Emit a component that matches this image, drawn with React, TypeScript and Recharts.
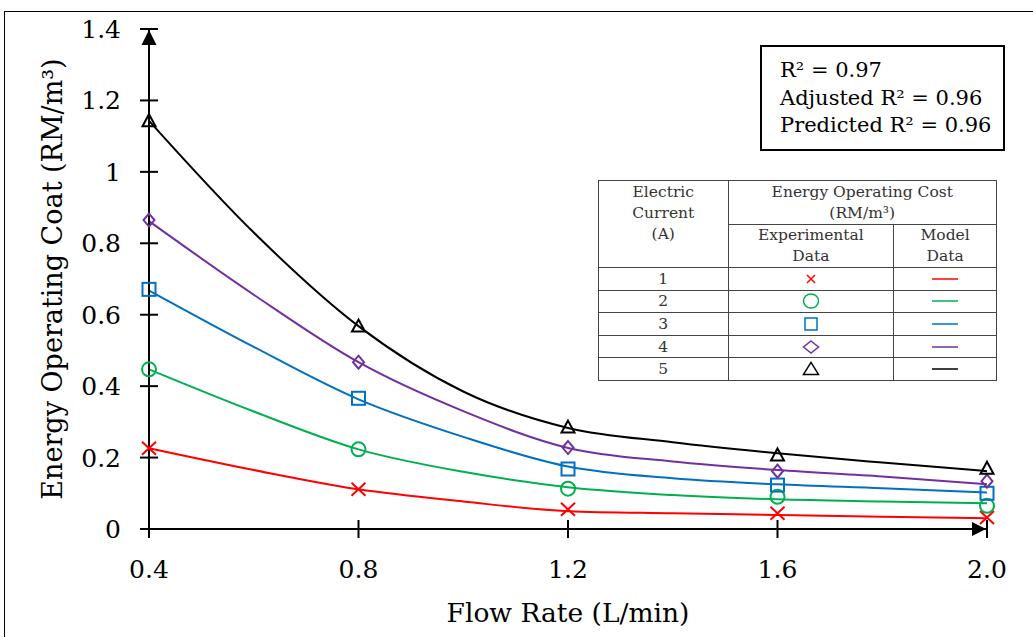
import { ComposedChart, Line, Scatter, XAxis, YAxis } from "recharts"

// flow rate (L/min) and energy operating cost (RM/m3) per electric current
const flowRates = [0.4, 0.8, 1.2, 1.6, 2.0]
const modelFlowRates = [0.4, 0.6, 0.8, 1.0, 1.2, 1.4, 1.6, 1.8, 2.0]
const costTicks = [0, 0.2, 0.4, 0.6, 0.8, 1, 1.2, 1.4]
const currents = ["1", "2", "3", "4", "5"]

const exp1A = [0.226, 0.111, 0.055, 0.044, 0.032]
const exp2A = [0.447, 0.223, 0.113, 0.09, 0.065]
const exp3A = [0.671, 0.366, 0.168, 0.123, 0.1]
const exp4A = [0.865, 0.467, 0.228, 0.162, 0.134]
const exp5A = [1.143, 0.568, 0.285, 0.207, 0.17]

const model1A = [0.226, 0.165, 0.111, 0.077, 0.05, 0.044, 0.039, 0.034, 0.03]
const model2A = [0.447, 0.329, 0.223, 0.16, 0.117, 0.095, 0.083, 0.077, 0.072]
const model3A = [0.668, 0.51, 0.363, 0.258, 0.175, 0.142, 0.125, 0.114, 0.102]
const model4A = [0.862, 0.656, 0.467, 0.33, 0.227, 0.189, 0.165, 0.147, 0.125]
const model5A = [1.143, 0.83, 0.568, 0.385, 0.283, 0.243, 0.212, 0.186, 0.162]

const fitStats = ["R² = 0.97", "Adjusted R² = 0.96", "Predicted R² = 0.96"]

type MarkerKind = "cross" | "circle" | "square" | "diamond" | "triangle"

const seriesList: { current: string; color: string; marker: MarkerKind; exp: number[]; model: number[] }[] = [
  { current: currents[0], color: "#ff0000", marker: "cross", exp: exp1A, model: model1A },
  { current: currents[1], color: "#00b050", marker: "circle", exp: exp2A, model: model2A },
  { current: currents[2], color: "#0070c0", marker: "square", exp: exp3A, model: model3A },
  { current: currents[3], color: "#7030a0", marker: "diamond", exp: exp4A, model: model4A },
  { current: currents[4], color: "#000000", marker: "triangle", exp: exp5A, model: model5A },
]

const W = 1033
const H = 637
const MARGIN = { top: 29, right: 46, bottom: 0, left: 0 }
const Y_AXIS_W = 149
const X_AXIS_H = 108
const PLOT_LEFT = MARGIN.left + Y_AXIS_W
const PLOT_BOTTOM = H - MARGIN.bottom - X_AXIS_H
const SERIF = '"DejaVu Serif", "Liberation Serif", serif'

function Marker({ kind, cx, cy, color, w, h, sw }: { kind: MarkerKind; cx: number; cy: number; color: string; w: number; h: number; sw: number }) {
  const a = w / 2
  const b = h / 2
  const common = { fill: "none", stroke: color, strokeWidth: sw }
  switch (kind) {
    case "cross":
      return <path d={`M${cx - a},${cy - b}L${cx + a},${cy + b}M${cx - a},${cy + b}L${cx + a},${cy - b}`} {...common} />
    case "circle":
      return <ellipse cx={cx} cy={cy} rx={a} ry={b} {...common} />
    case "square":
      return <rect x={cx - a} y={cy - b} width={w} height={h} {...common} />
    case "diamond":
      return <path d={`M${cx},${cy - b}L${cx + a},${cy}L${cx},${cy + b}L${cx - a},${cy}Z`} {...common} />
    default:
      return <path d={`M${cx},${cy - b * 1.1}L${cx + a},${cy + b * 0.9}L${cx - a},${cy + b * 0.9}Z`} {...common} strokeLinejoin="miter" />
  }
}

const chartMarker: Record<MarkerKind, [number, number]> = {
  cross: [14, 13],
  circle: [14, 14],
  square: [13, 13],
  diamond: [11, 13],
  triangle: [13, 12],
}

function CostTick(props: any) {
  const { y, payload, index } = props
  const v = payload.value as number
  const label = Number.isInteger(v) ? String(v) : v.toFixed(1)
  return (
    <g>
      <line x1={PLOT_LEFT - 9} x2={PLOT_LEFT + 9} y1={y} y2={y} stroke="#000" strokeWidth={2} />
      {index === costTicks.length - 1 && (
        <path d={`M${PLOT_LEFT},${y + 1}L${PLOT_LEFT + 7.5},${y + 16}L${PLOT_LEFT - 7.5},${y + 16}Z`} fill="#000" />
      )}
      <text x={PLOT_LEFT - 28} y={y} dy={9} textAnchor="end" fontFamily={SERIF} fontSize={25} fill="#000">
        {label}
      </text>
    </g>
  )
}

function FlowTick(props: any) {
  const { x, payload, index } = props
  const v = payload.value as number
  return (
    <g>
      <line x1={x} x2={x} y1={PLOT_BOTTOM - 9} y2={PLOT_BOTTOM + 9} stroke="#000" strokeWidth={2} />
      {index === flowRates.length - 1 && (
        <path d={`M${x - 1},${PLOT_BOTTOM}L${x - 15},${PLOT_BOTTOM - 7}L${x - 15},${PLOT_BOTTOM + 7}Z`} fill="#000" />
      )}
      <text x={x} y={PLOT_BOTTOM + 49} textAnchor="middle" fontFamily={SERIF} fontSize={25} fill="#000">
        {v.toFixed(1)}
      </text>
    </g>
  )
}

const cellBorder = "1.5px solid #444"

function LegendTable() {
  const th = { border: cellBorder, fontWeight: 400, padding: 0, verticalAlign: "top" as const, lineHeight: "21px" }
  return (
    <table
      style={{
        position: "absolute",
        left: 598,
        top: 180,
        width: 399,
        height: 197,
        borderCollapse: "collapse",
        fontFamily: SERIF,
        fontSize: 15.5,
        color: "#333",
        background: "#fff",
        textAlign: "center",
      }}
    >
      <tbody>
        <tr style={{ height: 42 }}>
          <th rowSpan={2} style={{ ...th, width: 130, paddingTop: 1 }}>
            Electric
            <br />
            Current
            <br />
            (A)
          </th>
          <th colSpan={2} style={{ ...th, paddingTop: 1 }}>
            Energy Operating Cost
            <br />
            (RM/m³)
          </th>
        </tr>
        <tr style={{ height: 42 }}>
          <th style={{ ...th, width: 166 }}>
            Experimental
            <br />
            Data
          </th>
          <th style={{ ...th, width: 103 }}>
            Model
            <br />
            Data
          </th>
        </tr>
        {seriesList.map((s) => (
          <tr key={s.current} style={{ height: 22.6 }}>
            <td style={{ border: cellBorder, padding: 0, lineHeight: "20px" }}>{s.current}</td>
            <td style={{ border: cellBorder, padding: 0 }}>
              <svg width={20} height={18} style={{ display: "block", margin: "0 auto" }}>
                <Marker
                  kind={s.marker}
                  cx={10}
                  cy={9}
                  color={s.color}
                  w={s.marker === "cross" ? 8 : s.marker === "square" ? 12 : 15}
                  h={s.marker === "cross" ? 8 : s.marker === "square" ? 12 : s.marker === "circle" ? 14 : 12}
                  sw={1.5}
                />
              </svg>
            </td>
            <td style={{ border: cellBorder, padding: 0 }}>
              <svg width={26} height={10} style={{ display: "block", margin: "0 auto" }}>
                <line x1={0} x2={26} y1={5} y2={5} stroke={s.color} strokeWidth={1.5} />
              </svg>
            </td>
          </tr>
        ))}
      </tbody>
    </table>
  )
}

function FitBox() {
  return (
    <div
      style={{
        position: "absolute",
        left: 760,
        top: 45,
        width: 245,
        height: 106,
        border: "2px solid #000",
        background: "#fff",
        fontFamily: SERIF,
        fontSize: 21,
        lineHeight: "27.5px",
        paddingTop: 10,
        paddingLeft: 18,
        boxSizing: "border-box",
        color: "#000",
      }}
    >
      {fitStats.map((t) => (
        <div key={t}>{t}</div>
      ))}
    </div>
  )
}

export default function App() {
  return (
    <div style={{ position: "absolute", left: 0, top: 0, width: W, height: H, background: "#fff", overflow: "hidden" }}>
      <div style={{ position: "absolute", left: 4, top: 11, width: W, height: H, borderTop: "1.5px solid #000", borderLeft: "1.5px solid #000" }} />
      <ComposedChart width={W} height={H} margin={MARGIN} style={{ position: "absolute", left: 0, top: 0 }}>
        <XAxis
          type="number"
          dataKey="x"
          domain={[0.4, 2.0]}
          ticks={flowRates}
          interval={0}
          height={X_AXIS_H}
          axisLine={{ stroke: "#000", strokeWidth: 2 }}
          tickLine={false}
          tick={<FlowTick />}
          label={{
            content: (p: any) => (
              <text
                x={p.viewBox.x + p.viewBox.width / 2}
                y={PLOT_BOTTOM + 93}
                textAnchor="middle"
                fontFamily={SERIF}
                fontSize={26.5}
                fill="#000"
              >
                Flow Rate (L/min)
              </text>
            ),
          }}
        />
        <YAxis
          type="number"
          dataKey="y"
          domain={[0, 1.4]}
          ticks={costTicks}
          interval={0}
          width={Y_AXIS_W}
          axisLine={{ stroke: "#000", strokeWidth: 2 }}
          tickLine={false}
          tick={<CostTick />}
          label={{
            content: (p: any) => {
              const cx = 62
              const cy = p.viewBox.y + p.viewBox.height / 2
              return (
                <text x={cx} y={cy} transform={`rotate(-90 ${cx} ${cy})`} textAnchor="middle" fontFamily={SERIF} fontSize={27} fill="#000">
                  Energy Operating Coat (RM/m³)
                </text>
              )
            },
          }}
        />
        {seriesList.map((s) => (
          <Line
            key={`model-${s.current}`}
            data={modelFlowRates.map((x, i) => ({ x, y: s.model[i] }))}
            dataKey="y"
            type="monotone"
            stroke={s.color}
            strokeWidth={2}
            dot={false}
            activeDot={false}
            isAnimationActive={false}
          />
        ))}
        {seriesList.map((s) => (
          <Scatter
            key={`exp-${s.current}`}
            data={flowRates.map((x, i) => ({ x, y: s.exp[i] }))}
            dataKey="y"
            isAnimationActive={false}
            shape={(p: any) => (
              <Marker kind={s.marker} cx={p.cx} cy={p.cy} color={s.color} w={chartMarker[s.marker][0]} h={chartMarker[s.marker][1]} sw={2} />
            )}
          />
        ))}
      </ComposedChart>
      <FitBox />
      <LegendTable />
    </div>
  )
}
